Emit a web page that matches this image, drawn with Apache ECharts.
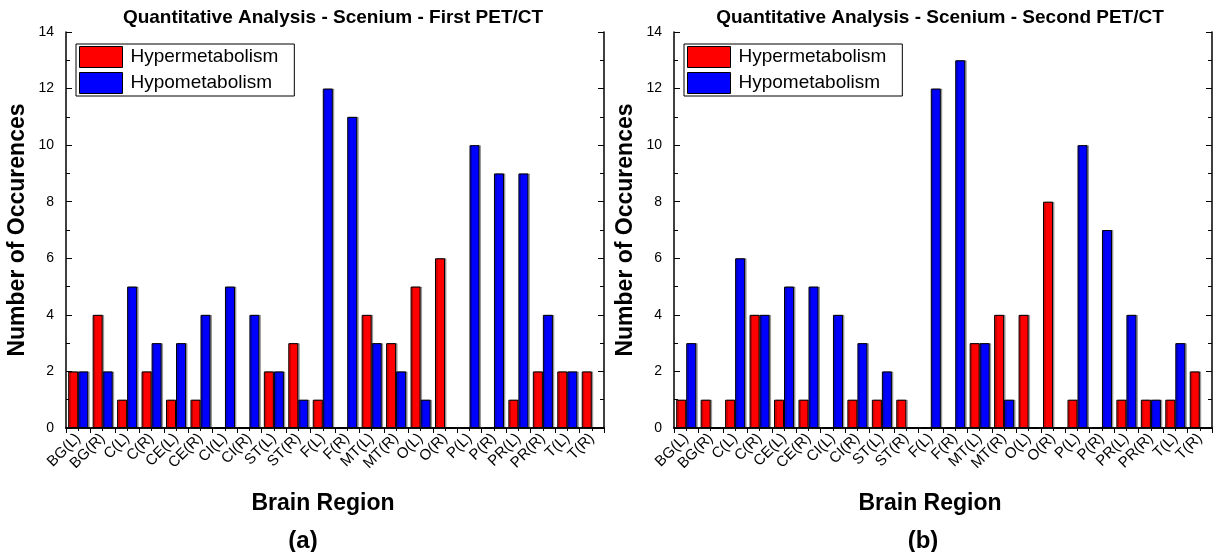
<!DOCTYPE html>
<html>
<head>
<meta charset="utf-8">
<script src="https://cdn.jsdelivr.net/npm/echarts@6/dist/echarts.min.js"></script>
<style>html,body{margin:0;padding:0;background:#fff;}#c{width:1214px;height:552px;}</style>
</head>
<body>
<div id="c"></div>
<script>
const categories = ['BG(L)','BG(R)','C(L)','C(R)','CE(L)','CE(R)','CI(L)','CI(R)','ST(L)','ST(R)','F(L)','F(R)','MT(L)','MT(R)','O(L)','O(R)','P(L)','P(R)','PR(L)','PR(R)','T(L)','T(R)'];
const hyperFirst  = [2,4,1,2,1,1,0,0,2,3,1,0,4,3,5,6,0,0,1,2,2,2];
const hypoFirst   = [2,2,5,3,3,4,5,4,2,1,12,11,3,2,1,0,10,9,9,4,2,0];
const hyperSecond = [1,1,1,4,1,1,0,1,1,1,0,0,3,4,4,8,1,0,1,1,1,2];
const hypoSecond  = [3,0,6,4,5,5,4,3,2,0,12,13,3,1,0,0,10,7,4,1,3,0];
const titles = ['Quantitative Analysis - Scenium - First PET/CT','Quantitative Analysis - Scenium - Second PET/CT'];
const panelLabels = ['(a)','(b)'];
const yTicks = {min:0, max:14, interval:2};

const FONT = '"Liberation Sans", Arial, sans-serif';
const grids = [
  {left:66, right:610, top:32, bottom:124},
  {left:674, right:2, top:32, bottom:124}
];
const titleCenters = [328, 935];
const panelCenters = [298, 918];
const xNamePad = [24, 26];

const chart = echarts.init(document.getElementById('c'), null, {renderer:'canvas'});
const xAxes = [], yAxes = [], series = [], legends = [], titleArr = [];
[0,1].forEach(i => {
  xAxes.push({
    type:'category', gridIndex:i, data:categories, position:'bottom',
    name:'Brain Region', nameLocation:'middle', nameGap:64,
    nameTextStyle:{fontFamily:FONT, fontWeight:'bold', fontSize:23, color:'#000', padding:[0, xNamePad[i], 0, 0]},
    axisLine:{lineStyle:{color:'#000', width:1.5}},
    axisTick:{inside:true, length:4, lineStyle:{color:'#000'}},
    axisLabel:{interval:0, rotate:45, fontFamily:FONT, fontSize:15, color:'#000', margin:8}
  });
  xAxes.push({
    type:'value', gridIndex:i, position:'top', min:0, max:22, interval:1,
    axisLine:{show:true, lineStyle:{color:'#000', width:1.5}},
    axisTick:{show:true, inside:true, length:5, lineStyle:{color:'#000'}},
    minorTick:{show:true, splitNumber:2, length:3, lineStyle:{color:'#000'}},
    axisLabel:{show:false}, splitLine:{show:false}
  });
  yAxes.push({
    type:'value', gridIndex:i, position:'left', min:yTicks.min, max:yTicks.max, interval:yTicks.interval,
    name:'Number of Occurences', nameLocation:'middle', nameGap:37,
    nameTextStyle:{fontFamily:FONT, fontWeight:'bold', fontSize:23, color:'#000'},
    axisLine:{show:true, lineStyle:{color:'#000', width:1.5}},
    axisTick:{show:true, inside:true, length:6, lineStyle:{color:'#000'}},
    minorTick:{show:true, splitNumber:2, length:4, lineStyle:{color:'#000'}},
    axisLabel:{fontFamily:FONT, fontSize:14, color:'#000', margin:12},
    splitLine:{show:false}
  });
  yAxes.push({
    type:'value', gridIndex:i, position:'right', min:yTicks.min, max:yTicks.max, interval:yTicks.interval,
    axisLine:{show:true, lineStyle:{color:'#000', width:1.5}},
    axisTick:{show:true, inside:true, length:6, lineStyle:{color:'#000'}},
    minorTick:{show:true, splitNumber:2, length:4, lineStyle:{color:'#000'}},
    axisLabel:{show:false}, splitLine:{show:false}
  });
  const hyper = i === 0 ? hyperFirst : hyperSecond;
  const hypo = i === 0 ? hypoFirst : hypoSecond;
  const common = {type:'bar', xAxisIndex:i*2, yAxisIndex:i*2, barGap:'0%', barCategoryGap:'18%'};
  series.push(Object.assign({}, common, {name:'Hypermetabolism', data:hyper,
    itemStyle:{color:'#ff0000', borderColor:'#000', borderWidth:1, shadowColor:'rgba(0,0,0,0.3)', shadowOffsetX:1.5, shadowOffsetY:0}}));
  series.push(Object.assign({}, common, {name:'Hypometabolism', data:hypo,
    itemStyle:{color:'#0000ff', borderColor:'#000', borderWidth:1, shadowColor:'rgba(0,0,0,0.3)', shadowOffsetX:1.5, shadowOffsetY:0}}));
  legends.push({
    left: grids[i].left + 10, top:44, orient:'vertical',
    data:['Hypermetabolism','Hypometabolism'], icon:'rect',
    itemWidth:43, itemHeight:21, itemGap:4,
    borderColor:'#000', borderWidth:1, padding:[2,16,2,3],
    selectedMode:false, backgroundColor:'#fff',
    textStyle:{fontFamily:FONT, fontSize:19, color:'#000', padding:[0,0,0,3]},
    itemStyle:{borderColor:'#000', borderWidth:1, shadowBlur:0, shadowOffsetX:0}
  });
  titleArr.push({
    text:titles[i], left:titleCenters[i], top:3, textAlign:'center',
    textStyle:{fontFamily:FONT, fontWeight:'bold', fontSize:19, color:'#000'}
  });
  titleArr.push({
    text:panelLabels[i], left:panelCenters[i], top:524, textAlign:'center',
    textStyle:{fontFamily:FONT, fontWeight:'bold', fontSize:24, color:'#000'}
  });
});

chart.setOption({
  animation:false,
  backgroundColor:'#fff',
  title:titleArr,
  legend:legends,
  grid:grids,
  xAxis:xAxes,
  yAxis:yAxes,
  series:series
});
</script>
</body>
</html>
